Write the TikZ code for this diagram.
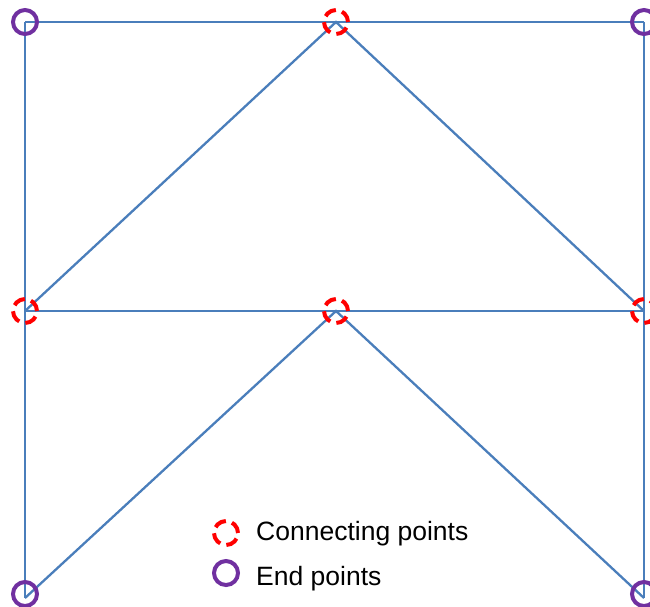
\documentclass[tikz,border=0pt]{standalone}
\usepackage{fontspec}
\setmainfont{Liberation Sans}
\usetikzlibrary{positioning}
\definecolor{beamblue}{HTML}{4A7EBB}
\definecolor{endpurple}{HTML}{7030A0}

\begin{document}
\begin{tikzpicture}[x=1pt,y=-1pt,
  beam/.style={draw=beamblue,line width=2.3pt},
  joint/.style={circle,draw=red,line width=4pt,dash pattern=on 12.5pt off 6.35pt,minimum size=24pt,inner sep=0pt},
  endpt/.style={circle,draw=endpurple,line width=4pt,minimum size=24pt,inner sep=0pt},
  legtext/.style={anchor=base west,inner sep=0pt,font=\fontsize{26.5}{30}\selectfont}]
  \useasboundingbox (0,0) rectangle (650,606);
  % grid of frame points
  \coordinate (tl) at (25,22);  \coordinate (tm) at (336,22);  \coordinate (tr) at (644,22);
  \coordinate (ml) at (25,311); \coordinate (mm) at (336,311); \coordinate (mr) at (644,311);
  \coordinate (bl) at (25,598); \coordinate (br) at (644,598);
  % frame members
  \draw[beam] (tl) -- (tr);
  \draw[beam] (ml) -- (mr);
  \draw[beam] (tl) -- (bl);
  \draw[beam] (tr) -- (br);
  \draw[beam] (ml) -- (tm) -- (mr);
  \draw[beam] (bl) -- (mm) -- (br);
  % connecting points
  \foreach \p in {tm,ml,mm,mr} \node[joint] (j-\p) at (\p) {};
  % end points (the lower ones sit a little above the corners)
  \foreach \p in {tl,tr} \node[endpt] (e-\p) at (\p) {};
  \foreach \p in {bl,br} \node[endpt,yshift=4pt] (e-\p) at (\p) {};
  % legend
  \node[joint] (legjoint) at (226,533) {};
  \node[endpt] (legend) at (226,573) {};
  \node[legtext] (jointtext) at (256,540) {Connecting points};
  \node[legtext] (endtext) at (256,585) {End points};
\end{tikzpicture}
\end{document}
